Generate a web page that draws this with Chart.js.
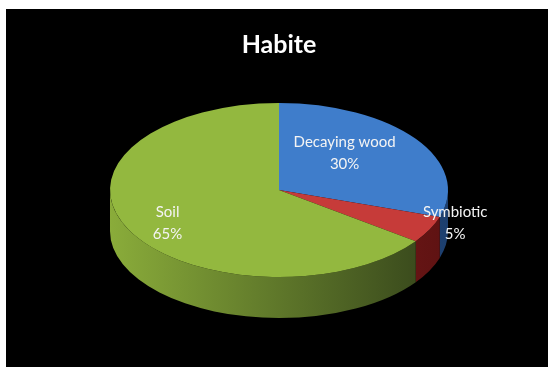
<!DOCTYPE html>
<html>
<head>
<meta charset="utf-8">
<script src="https://cdn.jsdelivr.net/npm/chart.js@4.4.1/dist/chart.umd.min.js"></script>
<style>
    html, body { margin: 0; padding: 0; background: #fff; }
    #wrap { position: relative; width: 548px; height: 367px; }
</style>
</head>
<body>
<div id="wrap"><canvas id="habitatChart" width="548" height="367"></canvas></div>
<script>
const categories = ['Decaying wood', 'Symbiotic', 'Soil'];
const shares = [30, 5, 65];
const topColors = ['#3f7dcb', '#c63b39', '#93b83f'];
const sideColors = [
    ['#2f62a3', '#1d3f6e'],
    ['#a32a27', '#5e1212'],
    ['#8aac3a', '#33421a']
];

// flattening of the pie and thickness of the wall
const TILT = 0.515;
const DEPTH = 41;

const pie3d = {
    id: 'pie3d',
    beforeDraw(chart) {
        const ctx = chart.ctx;
        ctx.save();
        ctx.fillStyle = '#000';
        ctx.fillRect(6, 9, chart.width - 6, chart.height - 9);
        ctx.restore();
    },
    beforeDatasetsDraw(chart) {
        const ctx = chart.ctx;
        const meta = chart.getDatasetMeta(0);
        const cx = meta.data[0].x, cy = meta.data[0].y, r = meta.data[0].outerRadius;
        const ry = r * TILT;

        // front wall, only the part between 0 and PI is visible
        meta.data.forEach((arc, i) => {
            const a1 = Math.max(arc.startAngle, 0);
            const a2 = Math.min(arc.endAngle, Math.PI);
            if (a2 <= a1) return;
            const g = ctx.createLinearGradient(cx - r, 0, cx + r, 0);
            g.addColorStop(0, sideColors[i][0]);
            g.addColorStop(1, sideColors[i][1]);
            ctx.beginPath();
            ctx.ellipse(cx, cy, r, ry, 0, a1, a2);
            ctx.ellipse(cx, cy + DEPTH, r, ry, 0, a2, a1, true);
            ctx.closePath();
            ctx.fillStyle = g;
            ctx.fill();
        });

        // squash the top face
        ctx.save();
        ctx.translate(0, cy);
        ctx.scale(1, TILT);
        ctx.translate(0, -cy);
    },
    afterDatasetsDraw(chart) {
        chart.ctx.restore();
    },
    afterDraw(chart, args, opts) {
        const ctx = chart.ctx;
        const meta = chart.getDatasetMeta(0);
        const cx = meta.data[0].x, cy = meta.data[0].y, r = meta.data[0].outerRadius;

        ctx.save();
        ctx.fillStyle = '#fff';
        ctx.textAlign = 'center';
        ctx.textBaseline = 'middle';
        ctx.font = 'bold 25px Lato, "Open Sans", sans-serif';
        ctx.fillText(opts.title, cx, 45);

        ctx.font = '15px Lato, "Open Sans", sans-serif';
        ctx.fillStyle = '#f4f4f4';
        meta.data.forEach((arc, i) => {
            const mid = (arc.startAngle + arc.endAngle) / 2;
            const [fx, fy] = opts.labelRadius[i];
            const x = cx + Math.cos(mid) * r * fx;
            const y = cy + Math.sin(mid) * r * TILT * fy;
            ctx.fillText(categories[i], x, y - 11);
            ctx.fillText(shares[i] + '%', x, y + 11);
        });
        ctx.restore();
    }
};

new Chart(document.getElementById('habitatChart'), {
    type: 'pie',
    data: {
        labels: categories,
        datasets: [{
            data: shares,
            backgroundColor: topColors,
            borderWidth: 0
        }]
    },
    options: {
        responsive: false,
        animation: false,
        layout: { padding: { left: 110, right: 100, top: 21, bottom: 8 } },
        plugins: {
            legend: { display: false },
            tooltip: { enabled: false },
            pie3d: {
                title: 'Habite',
                labelRadius: [[0.48, 0.72], [1.17, 0.84], [0.74, 0.84]]
            }
        }
    },
    plugins: [pie3d]
});
</script>
</body>
</html>
